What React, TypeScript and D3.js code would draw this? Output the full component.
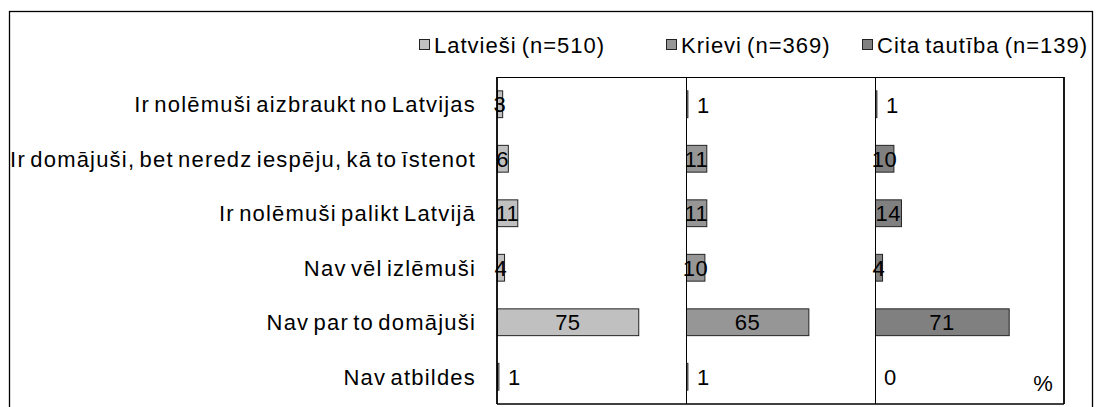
import React from "react";
import * as d3 from "d3";

const categories = [
  "Ir nolēmuši aizbraukt no Latvijas",
  "Ir domājuši, bet neredz iespēju, kā to īstenot",
  "Ir nolēmuši palikt Latvijā",
  "Nav vēl izlēmuši",
  "Nav par to domājuši",
  "Nav atbildes",
];
const seriesNames = ["Latvieši (n=510)", "Krievi (n=369)", "Cita tautība (n=139)"];
const latviesi = [3, 6, 11, 4, 75, 1];
const krievi = [1, 11, 11, 10, 65, 1];
const cita = [1, 10, 14, 4, 71, 0];
const seriesValues = [latviesi, krievi, cita];
const seriesColors = ["#C0C0C0", "#969696", "#808080"];

const W = 1096;
const H = 407;
const FONT = "'Liberation Sans', Arial, sans-serif";

export default function App() {
  const plotL = 497;
  const plotR = 1064;
  const plotT = 77;
  const plotB = 404;
  const panelW = (plotR - plotL) / 3;

  const y = d3
    .scaleBand<string>()
    .domain(categories)
    .range([plotT, plotB])
    .paddingInner(0.49)
    .paddingOuter(0.245);
  const panel = d3.scaleBand<number>().domain([0, 1, 2]).range([plotL, plotR]).padding(0);
  const x = d3.scaleLinear().domain([0, 100]).range([0, panelW]);

  const legendX = [419, 666, 862];

  return (
    <svg
      width={W}
      height={H}
      style={{ position: "absolute", left: 0, top: 0, background: "#fff" }}
      fontFamily={FONT}
    >
      <rect x={0} y={0} width={W} height={H} fill="#fff" />
      {/* outer frame */}
      <rect x={9.5} y={11.5} width={1083} height={420} fill="none" stroke="#000" strokeWidth={1.3} />

      {/* legend */}
      {seriesNames.map((n, i) => (
        <g key={n}>
          <rect x={legendX[i] + 0.5} y={39.5} width={10} height={10} fill={seriesColors[i]} stroke="#222" strokeWidth={1} />
          <text x={legendX[i] + 15} y={52.5} fontSize={22} letterSpacing={1} wordSpacing={-2} fill="#000">
            {n}
          </text>
        </g>
      ))}

      {/* category labels */}
      {categories.map((c) => (
        <text
          key={c}
          x={476}
          y={(y(c) ?? 0) + y.bandwidth() / 2 + 8}
          textAnchor="end"
          fontSize={22}
          letterSpacing={1.2}
          wordSpacing={-3}
          fill="#000"
        >
          {c}
        </text>
      ))}

      {/* bars */}
      {seriesValues.map((vals, si) => {
        const px = panel(si) ?? 0;
        return (
          <g key={si}>
            {vals.map((v, ci) => {
              const yy = y(categories[ci]) ?? 0;
              const bw = x(v);
              const cy = yy + y.bandwidth() / 2;
              return (
                <g key={ci}>
                  {v > 0 && (
                    <rect
                      x={px + 0.5}
                      y={yy + 0.5}
                      width={Math.max(bw - 0.5, 0.5)}
                      height={y.bandwidth() - 1}
                      fill={seriesColors[si]}
                      stroke="#222"
                      strokeWidth={1}
                    />
                  )}
                  {v > 1 ? (
                    <text x={px + bw / 2} y={cy + 8} textAnchor="middle" fontSize={22} letterSpacing={0.5} fill="#000">
                      {v}
                    </text>
                  ) : (
                    <text x={px + bw + 9} y={cy + 8.5} textAnchor="start" fontSize={22} fill="#000">
                      {v}
                    </text>
                  )}
                </g>
              );
            })}
          </g>
        );
      })}

      {/* plot frame */}
      <line x1={plotL} x2={plotR} y1={plotT + 0.5} y2={plotT + 0.5} stroke="#000" strokeWidth={1.2} />
      <line x1={plotL} x2={plotR} y1={plotB} y2={plotB} stroke="#000" strokeWidth={1.5} />
      <line x1={plotL} x2={plotL} y1={plotT} y2={plotB} stroke="#000" strokeWidth={1.8} />
      <line x1={plotR} x2={plotR} y1={plotT} y2={plotB} stroke="#000" strokeWidth={1.8} />
      {[1, 2].map((i) => (
        <line key={i} x1={(panel(i) ?? 0) + 0.5} x2={(panel(i) ?? 0) + 0.5} y1={plotT} y2={plotB} stroke="#000" strokeWidth={1} />
      ))}

      <text x={1043} y={391} textAnchor="middle" fontSize={22} fill="#000">
        %
      </text>
    </svg>
  );
}
